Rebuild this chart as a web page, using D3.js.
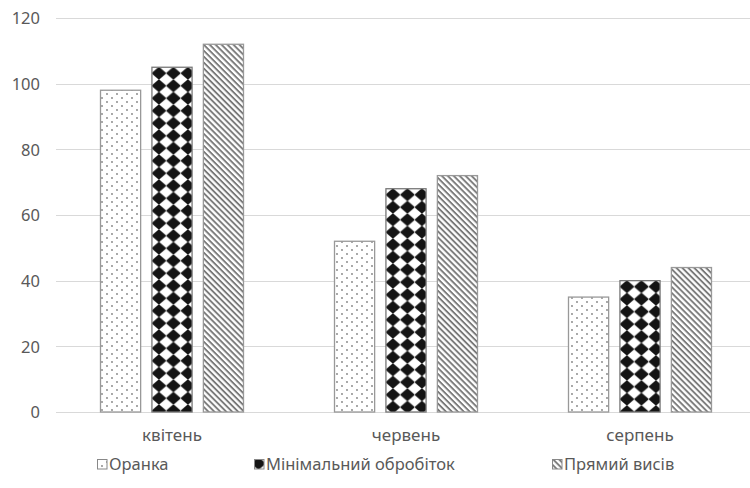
<!DOCTYPE html>
<html><head><meta charset="utf-8">
<script src="https://cdn.jsdelivr.net/npm/d3@7"></script>
<style>body{margin:0;background:#fff}svg{display:block}text{font-family:"Noto Sans","Open Sans",sans-serif;fill:#595959}</style>
</head><body><svg id="c" width="750" height="488"></svg>
<script>
const categories = ["квітень", "червень", "серпень"];
const seriesNames = ["Оранка", "Мінімальний обробіток", "Прямий висів"];
const orankaValues = [98, 52, 35];
const minimalValues = [105, 68, 40];
const pryamyValues = [112, 72, 44];
const yTicks = [0, 20, 40, 60, 80, 100, 120];

const seriesValues = [orankaValues, minimalValues, pryamyValues];
const svg = d3.select("#c");
const defs = svg.append("defs");

// dots pattern
const p1 = defs.append("pattern").attr("id","pat0").attr("patternUnits","userSpaceOnUse").attr("width",10).attr("height",8);
p1.append("rect").attr("width",10).attr("height",8).attr("fill","#fff");
p1.append("circle").attr("cx",2).attr("cy",2).attr("r",0.9).attr("fill","#808080");
p1.append("circle").attr("cx",7).attr("cy",6).attr("r",0.9).attr("fill","#808080");
// diagonal stripes
const p3 = defs.append("pattern").attr("id","pat2").attr("patternUnits","userSpaceOnUse").attr("width",4.2).attr("height",4.2).attr("patternTransform","rotate(45)");
p3.append("rect").attr("width",4.2).attr("height",4.2).attr("fill","#fff");
p3.append("rect").attr("width",4.2).attr("height",1.9).attr("fill","#7a7a7a");

const dW = 14.5, dH = 12.5;
const dpath = (cx,cy,rx,ry)=>`M${cx},${cy-ry}L${cx+rx},${cy}L${cx},${cy+ry}L${cx-rx},${cy}Z`;
function diamondPattern(id, ox, oy){
  const p = defs.append("pattern").attr("id",id).attr("patternUnits","userSpaceOnUse")
    .attr("width",dW).attr("height",dH).attr("x",ox).attr("y",oy);
  p.append("rect").attr("width",dW).attr("height",dH).attr("fill","#fff");
  const rx=6.1, ry=5.3;
  p.append("path").attr("d", dpath(0,0,rx,ry)+dpath(dW,0,rx,ry)+dpath(0,dH,rx,ry)+dpath(dW,dH,rx,ry))
    .attr("fill","#141414").attr("stroke","#141414").attr("stroke-width",1.8).attr("stroke-linejoin","round");
  return `url(#${id})`;
}

const x0 = d3.scaleBand().domain(categories).range([55, 757]).paddingInner(0).paddingOuter(0);
const x1 = d3.scaleBand().domain(d3.range(3)).range([45, x0.bandwidth()-45]).paddingInner(0.2);
const y = d3.scaleLinear().domain([0,120]).range([412, 18]);

// grid
svg.append("g").selectAll("line").data(yTicks).join("line")
  .attr("x1",56).attr("x2",750).attr("y1",d=>Math.round(y(d))+0.5).attr("y2",d=>Math.round(y(d))+0.5)
  .attr("stroke","#d9d9d9").attr("stroke-width",1.2);

const yAxis = svg.append("g").attr("transform","translate(40,0)").call(d3.axisLeft(y).tickValues(yTicks).tickSize(0).tickPadding(0));
yAxis.select(".domain").remove();
yAxis.selectAll("text").attr("font-size",16.5).style("font-family",'"Noto Sans",sans-serif').attr("fill","#595959").attr("dy","0.35em");

// bars
categories.forEach((c,ci)=>{
  seriesValues.forEach((vals,si)=>{
    const bx = x0(c)+x1(si)+0.5, by = y(vals[ci]);
    const fill = si===1 ? diamondPattern(`dia${ci}`, bx+7, by+6) : `url(#pat${si})`;
    svg.append("rect")
      .attr("x", bx).attr("y", by)
      .attr("width", x1.bandwidth()-1).attr("height", y(0)-by)
      .attr("fill", fill).attr("stroke", si===1?"#777":"#999").attr("stroke-width",1.3);
  });
});

const xAxis = svg.append("g").attr("transform","translate(0,412)").call(d3.axisBottom(x0).tickSize(0).tickPadding(17));
xAxis.select(".domain").remove();
xAxis.selectAll("text").attr("font-size",17).style("font-family",'"Noto Sans",sans-serif').attr("fill","#595959");

// legend
const legendX = [97, 254, 552];
const lg = svg.append("g");
seriesNames.forEach((n,i)=>{
  const fill = i===1 ? diamondPattern("diaLeg", legendX[i]+4.5, 463.5) : `url(#pat${i})`;
  lg.append("rect").attr("x",legendX[i]+0.5).attr("y",459.5).attr("width",9.5).attr("height",9.5)
    .attr("fill",fill).attr("stroke","#888").attr("stroke-width",1);
  lg.append("text").attr("x",legendX[i]+12).attr("y",470).attr("font-size",16.5).text(n);
});
</script></body></html>
